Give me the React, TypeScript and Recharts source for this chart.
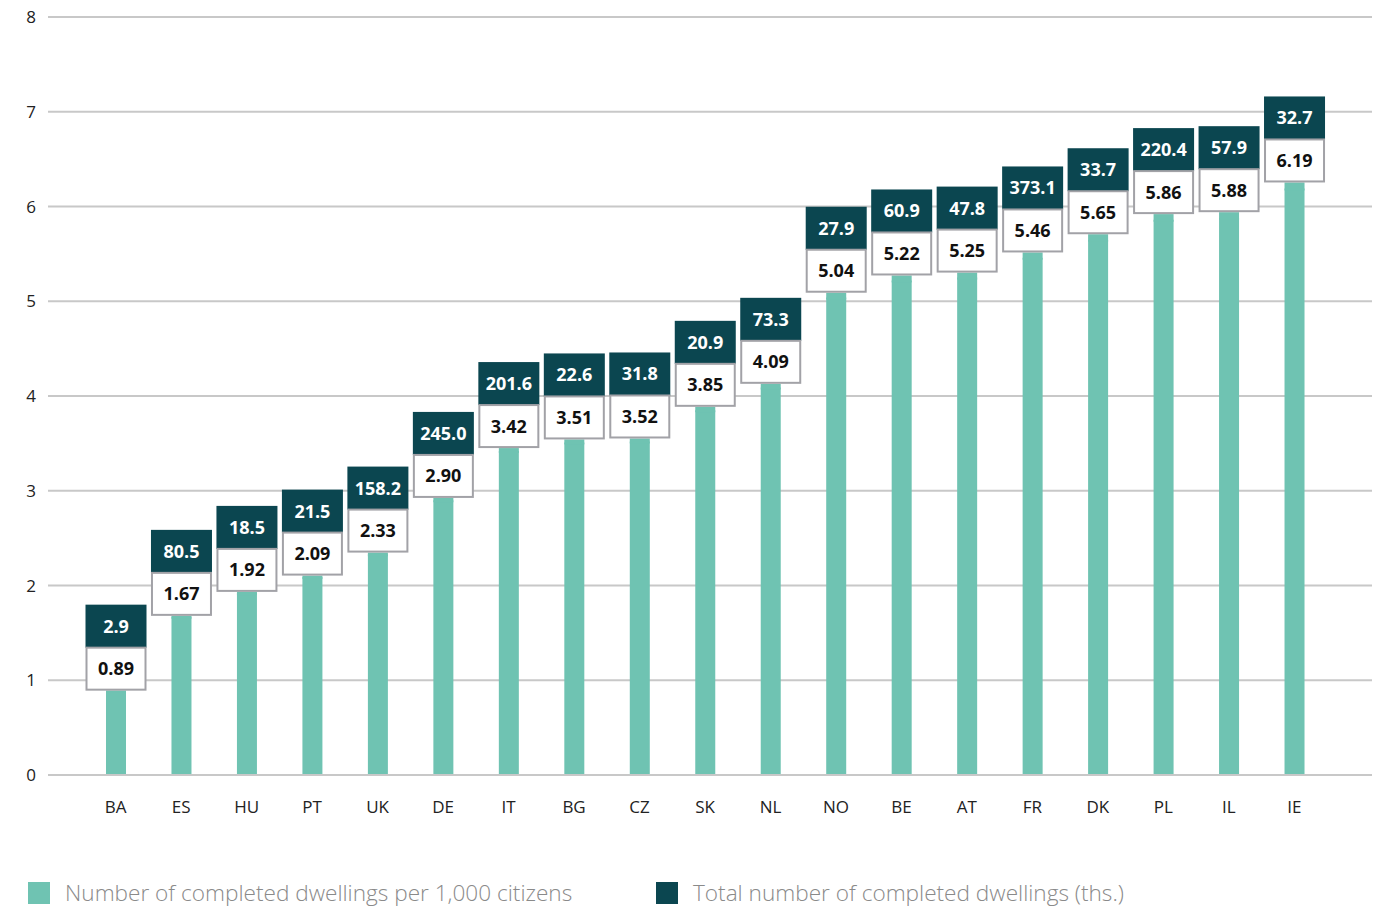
import { BarChart, Bar, XAxis, YAxis, CartesianGrid, LabelList } from 'recharts';

const countries = ['BA', 'ES', 'HU', 'PT', 'UK', 'DE', 'IT', 'BG', 'CZ', 'SK', 'NL', 'NO', 'BE', 'AT', 'FR', 'DK', 'PL', 'IL', 'IE'];
const perThousand = [0.89, 1.67, 1.92, 2.09, 2.33, 2.9, 3.42, 3.51, 3.52, 3.85, 4.09, 5.04, 5.22, 5.25, 5.46, 5.65, 5.86, 5.88, 6.19];
const totals = [2.9, 80.5, 18.5, 21.5, 158.2, 245.0, 201.6, 22.6, 31.8, 20.9, 73.3, 27.9, 60.9, 47.8, 373.1, 33.7, 220.4, 57.9, 32.7];
const yTicks = [0, 1, 2, 3, 4, 5, 6, 7, 8];

const TEAL = '#6fc3b2';
const DARK = '#0b4650';
const FONT = '"Open Sans", "Noto Sans", sans-serif';

const data = countries.map((c, i) => ({ country: c, rate: perThousand[i], total: totals[i] }));

function ValueBoxes(props: any) {
  const { x, y, width, height, index } = props;
  const cx = x + width / 2;
  const base = y + height;
  // boxes sit a little higher than the bar top, the bar runs up to meet them
  const bottom = base - height * 1.012 + 1;
  const h = 43;
  return (
    <g>
      {bottom < y && <rect x={x} y={bottom} width={width} height={y - bottom + 2} fill={TEAL} />}
      <rect x={cx - 30.5} y={bottom - 2 * h} width={61} height={h} fill={DARK} />
      <text x={cx} y={bottom - 2 * h + h / 2 + 6.5} textAnchor="middle" fill="#fff" fontSize={18} fontWeight={700} fontFamily={FONT}>
        {totals[index].toFixed(1)}
      </text>
      <rect x={cx - 29.5} y={bottom - h} width={59} height={h - 1} fill="#fff" stroke="#a2a2a7" strokeWidth={2} />
      <text x={cx} y={bottom - h / 2 + 6} textAnchor="middle" fill="#111" fontSize={18} fontWeight={700} fontFamily={FONT}>
        {perThousand[index].toFixed(2)}
      </text>
    </g>
  );
}

function YTick(props: any) {
  const { y, payload } = props;
  return (
    <text x={31} y={y + 6} textAnchor="middle" fill="#222" fontSize={17} fontFamily={FONT}>
      {payload.value}
    </text>
  );
}

function XTick(props: any) {
  const { x, y, payload } = props;
  return (
    <text x={x} y={y + 30} textAnchor="middle" fill="#222" fontSize={17} fontFamily={FONT}>
      {payload.value}
    </text>
  );
}

export default function App() {
  return (
    <div style={{ position: 'absolute', left: 0, top: 0, width: 1386, height: 909, background: '#fff' }}>
      <BarChart width={1386} height={909} data={data} margin={{ top: 17, right: 14, left: 0, bottom: 0 }}>
        <CartesianGrid vertical={false} stroke="#c8c8c8" strokeWidth={2} />
        <XAxis
          dataKey="country"
          height={134}
          padding={{ left: 35, right: 45 }}
          tickLine={false}
          axisLine={{ stroke: '#c8c8c8', strokeWidth: 2 }}
          tick={<XTick />}
          interval={0}
        />
        <YAxis width={48} domain={[0, 8]} ticks={yTicks} tickLine={false} axisLine={false} tick={<YTick />} />
        <Bar dataKey="rate" fill={TEAL} barSize={20} isAnimationActive={false}>
          <LabelList dataKey="rate" content={<ValueBoxes />} />
        </Bar>
      </BarChart>
      <div style={{ position: 'absolute', left: 28, top: 882, display: 'flex', alignItems: 'center', fontFamily: FONT, fontWeight: 300, fontSize: 22.6, color: '#8a8a8a' }}>
        <span style={{ width: 22, height: 22, background: TEAL, display: 'inline-block', marginRight: 15 }} />
        <span style={{ lineHeight: '22px' }}>Number of completed dwellings per 1,000 citizens</span>
      </div>
      <div style={{ position: 'absolute', left: 656, top: 882, display: 'flex', alignItems: 'center', fontFamily: FONT, fontWeight: 300, fontSize: 22.6, color: '#8a8a8a' }}>
        <span style={{ width: 22, height: 22, background: DARK, display: 'inline-block', marginRight: 15 }} />
        <span style={{ lineHeight: '22px' }}>Total number of completed dwellings (ths.)</span>
      </div>
    </div>
  );
}
